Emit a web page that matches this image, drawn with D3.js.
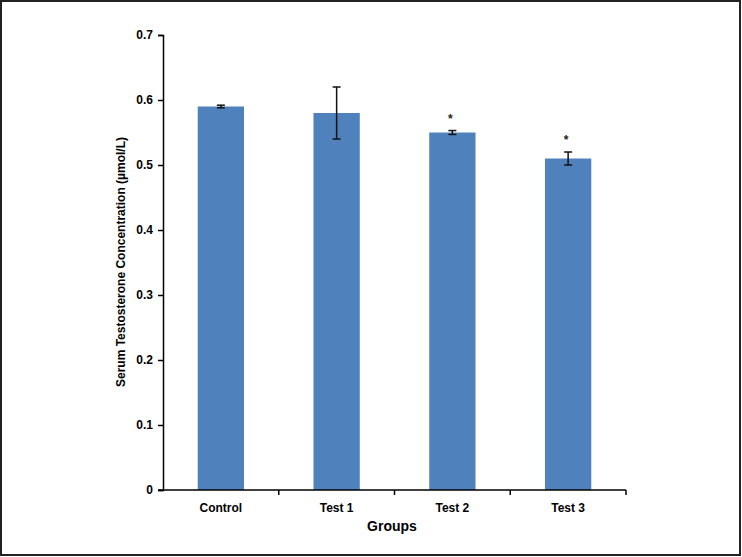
<!DOCTYPE html>
<html>
<head>
<meta charset="utf-8">
<script src="https://cdn.jsdelivr.net/npm/d3@7"></script>
<style>
  body { margin: 0; background: #fff; }
  svg { display: block; font-family: "Liberation Sans", Arial, sans-serif; }
</style>
</head>
<body>
<script>
// Chart data
const groups = ["Control", "Test 1", "Test 2", "Test 3"];
const means = [0.59, 0.58, 0.55, 0.51];
const errors = [0.002, 0.04, 0.003, 0.01];
const marks = ["", "", "*", "*"];
const yTicks = [0, 0.1, 0.2, 0.3, 0.4, 0.5, 0.6, 0.7];

const width = 742, height = 557;
const svg = d3.select("body").append("svg")
    .attr("width", width)
    .attr("height", height);

// outer frame
svg.append("rect")
    .attr("x", 1).attr("y", 1)
    .attr("width", 739).attr("height", 554)
    .attr("fill", "#fff")
    .attr("stroke", "#222")
    .attr("stroke-width", 2);

const x = d3.scaleBand().domain(groups).range([163, 626]).paddingInner(0.6).paddingOuter(0.3);
const y = d3.scaleLinear().domain([0, 0.7]).range([490, 35]);

// bars
svg.selectAll("rect.bar")
    .data(groups)
    .enter()
    .append("rect")
    .attr("class", "bar")
    .attr("x", d => x(d))
    .attr("y", (d, i) => y(means[i]))
    .attr("width", x.bandwidth())
    .attr("height", (d, i) => y(0) - y(means[i]))
    .attr("fill", "#4f81bd");

// error bars
const eb = svg.append("g").attr("stroke", "#111").attr("stroke-width", 1.5);
groups.forEach((g, i) => {
    const cx = x(g) + x.bandwidth() / 2;
    const top = y(means[i] + errors[i]), bot = y(means[i] - errors[i]);
    eb.append("line").attr("x1", cx).attr("x2", cx).attr("y1", top).attr("y2", bot);
    eb.append("line").attr("x1", cx - 4).attr("x2", cx + 4).attr("y1", top).attr("y2", top);
    eb.append("line").attr("x1", cx - 4).attr("x2", cx + 4).attr("y1", bot).attr("y2", bot);
    if (marks[i]) {
        svg.append("text")
            .attr("x", cx - 2)
            .attr("y", top - 8)
            .attr("text-anchor", "middle")
            .attr("font-size", 12)
            .attr("font-weight", "bold")
            .attr("fill", "#222")
            .text(marks[i]);
    }
});

// y axis
const yAxis = svg.append("g")
    .attr("transform", "translate(163,0)")
    .call(d3.axisLeft(y).tickValues(yTicks).tickSize(5).tickPadding(5)
        .tickFormat(d => d === 0 ? "0" : d3.format(".1f")(d)));
yAxis.select(".domain").attr("stroke", "#000").attr("stroke-width", 1.5);
yAxis.selectAll(".tick line").attr("stroke", "#000").attr("stroke-width", 1.5);
yAxis.selectAll("text")
    .attr("font-size", 12)
    .attr("font-weight", "bold")
    .attr("fill", "#000")
    .style("font-family", "'Liberation Sans', Arial, sans-serif");

// x axis with ticks between categories
const xAxis = svg.append("g").attr("transform", "translate(0,490)");
xAxis.append("line")
    .attr("x1", 158).attr("x2", 626)
    .attr("stroke", "#000").attr("stroke-width", 1.5);
const edges = groups.map(g => x(g) - x.step() * x.paddingInner() / 2).concat([626]);
xAxis.selectAll("line.tick")
    .data(edges.slice(1))
    .enter()
    .append("line")
    .attr("class", "tick")
    .attr("x1", d => d).attr("x2", d => d)
    .attr("y1", 0).attr("y2", 5)
    .attr("stroke", "#000").attr("stroke-width", 1.5);
xAxis.selectAll("text")
    .data(groups)
    .enter()
    .append("text")
    .attr("x", d => x(d) + x.bandwidth() / 2)
    .attr("y", 22)
    .attr("text-anchor", "middle")
    .attr("font-size", 12)
    .attr("font-weight", "bold")
    .text(d => d);

// axis titles
svg.append("text")
    .attr("x", 392)
    .attr("y", 531)
    .attr("text-anchor", "middle")
    .attr("font-size", 14)
    .attr("font-weight", "bold")
    .text("Groups");

svg.append("text")
    .attr("transform", "translate(125,262) rotate(-90)")
    .attr("text-anchor", "middle")
    .attr("font-size", 12)
    .attr("font-weight", "bold")
    .text("Serum Testosterone Concentration (µmol/L)");
</script>
</body>
</html>
